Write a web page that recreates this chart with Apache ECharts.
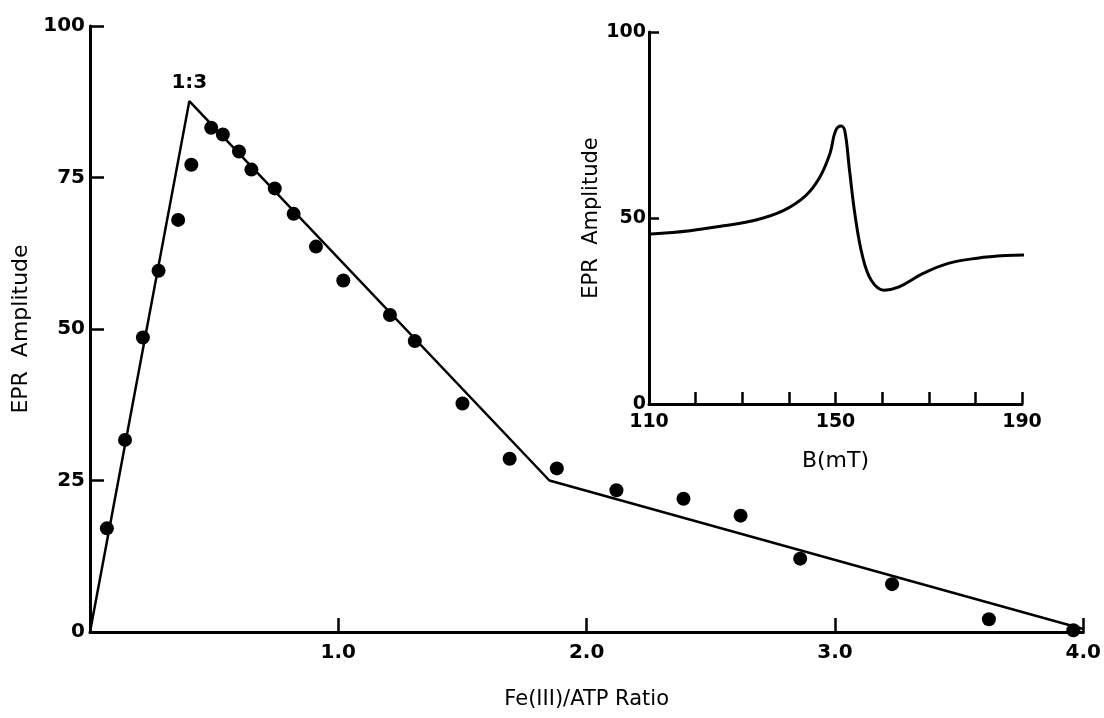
<!DOCTYPE html>
<html>
<head>
<meta charset="utf-8">
<script src="https://cdn.jsdelivr.net/npm/echarts@6/dist/echarts.min.js"></script>
<style>
  html, body { margin: 0; padding: 0; background: #fff; }
  #root { width: 1104px; height: 718px; }
</style>
</head>
<body>
<div id="root"></div>
<script>
// main titration data: Fe(III)/ATP ratio vs EPR amplitude
const ratio = [0.068, 0.141, 0.213, 0.276, 0.355, 0.408, 0.488, 0.535, 0.60, 0.65, 0.744, 0.82, 0.91,
  1.02, 1.208, 1.308, 1.50, 1.69, 1.88, 2.12, 2.39, 2.62, 2.86, 3.23, 3.62, 3.96];
const amplitude = [17.1, 31.7, 48.6, 59.6, 68.0, 77.1, 83.2, 82.1, 79.3, 76.3, 73.2, 69.0, 63.6,
  58.0, 52.3, 48.0, 37.7, 28.6, 27.0, 23.4, 22.0, 19.2, 12.1, 7.9, 2.1, 0.3];

// hand-drawn fit line vertices
const fitX = [0, 0.40, 1.85, 4.0];
const fitY = [0, 87.6, 25.0, 0.5];

// inset EPR spectrum
const insetB = [110.4, 118.8, 126.5, 132.7, 138.8, 143.5, 146.5, 148.8, 150.0, 151.2, 152.0, 153.0,
  154.2, 155.8, 157.7, 160.4, 163.5, 168.8, 174.2, 180.4, 186.5, 192.0];
const insetAmp = [45.7, 46.6, 48.0, 49.4, 52.0, 55.9, 60.7, 67.3, 73.4, 74.7, 73.4, 62.9,
  50.7, 39.7, 33.2, 30.6, 31.4, 35.1, 37.8, 39.2, 39.9, 40.1];

const mainTicks = [1, 2, 3, 4];
const insetLabels = [110, 150, 190];

const font = 'DejaVu Sans';
const ink = '#000';

const chart = echarts.init(document.getElementById('root'), null, { renderer: 'canvas' });

const axisLine = { show: true, lineStyle: { color: ink, width: 3 } };
const tickText = { color: ink, fontFamily: font, fontWeight: 'bold' };

const option = {
  backgroundColor: '#fff',
  animation: false,
  grid: [
    { left: 90, right: 16, top: 26, bottom: 86 },
    { left: 649, right: 82, top: 32, bottom: 314 }
  ],
  xAxis: [
    {
      gridIndex: 0, type: 'value', min: 0, max: 4, interval: 1,
      name: 'Fe(III)/ATP Ratio', nameLocation: 'middle', nameGap: 57,
      nameTextStyle: { color: ink, fontFamily: font, fontSize: 21 },
      axisLine: axisLine,
      axisTick: { show: true, inside: true, length: 14, lineStyle: { color: ink, width: 2.5 } },
      axisLabel: Object.assign({}, tickText, {
        fontSize: 20, margin: 11,
        formatter: v => (mainTicks.indexOf(v) >= 0 ? v.toFixed(1) : '')
      }),
      splitLine: { show: false }
    },
    {
      gridIndex: 1, type: 'value', min: 110, max: 190, interval: 10,
      name: 'B(mT)', nameLocation: 'middle', nameGap: 46,
      nameTextStyle: { color: ink, fontFamily: font, fontSize: 22 },
      axisLine: axisLine,
      axisTick: { show: true, inside: true, length: 12, lineStyle: { color: ink, width: 2.5 } },
      axisLabel: Object.assign({}, tickText, {
        fontSize: 19, margin: 9,
        formatter: v => (insetLabels.indexOf(v) >= 0 ? String(v) : '')
      }),
      splitLine: { show: false }
    }
  ],
  yAxis: [
    {
      gridIndex: 0, type: 'value', min: 0, max: 100, interval: 25,
      name: 'EPR  Amplitude', nameLocation: 'middle', nameGap: 52,
      nameTextStyle: { color: ink, fontFamily: font, fontSize: 22 },
      axisLine: axisLine,
      axisTick: { show: true, inside: true, length: 14, lineStyle: { color: ink, width: 2.5 } },
      axisLabel: Object.assign({}, tickText, { fontSize: 20, margin: 5 }),
      splitLine: { show: false }
    },
    {
      gridIndex: 1, type: 'value', min: 0, max: 100, interval: 50,
      name: 'EPR  Amplitude', nameLocation: 'middle', nameGap: 43,
      nameTextStyle: { color: ink, fontFamily: font, fontSize: 21 },
      axisLine: axisLine,
      axisTick: { show: true, inside: true, length: 10, lineStyle: { color: ink, width: 2.5 } },
      axisLabel: Object.assign({}, tickText, { fontSize: 19, margin: 3 }),
      splitLine: { show: false }
    }
  ],
  series: [
    {
      name: 'fit', type: 'line', xAxisIndex: 0, yAxisIndex: 0,
      data: fitX.map((x, i) => [x, fitY[i]]),
      symbol: 'none', lineStyle: { color: ink, width: 2.5 },
      markPoint: {
        symbol: 'circle', symbolSize: 0,
        data: [{ coord: [fitX[1], fitY[1]], value: '1:3' }],
        label: Object.assign({}, tickText, {
          show: true, position: 'top', distance: 8, formatter: '1:3', fontSize: 20
        })
      }
    },
    {
      name: 'points', type: 'scatter', xAxisIndex: 0, yAxisIndex: 0,
      data: ratio.map((x, i) => [x, amplitude[i]]),
      symbol: 'circle', symbolSize: 14,
      itemStyle: { color: ink, opacity: 1 }
    },
    {
      name: 'spectrum', type: 'line', xAxisIndex: 1, yAxisIndex: 1,
      data: insetB.map((b, i) => [b, insetAmp[i]]),
      symbol: 'none', smooth: 0.4, clip: false,
      lineStyle: { color: ink, width: 3 }
    }
  ]
};

chart.setOption(option);
</script>
</body>
</html>
